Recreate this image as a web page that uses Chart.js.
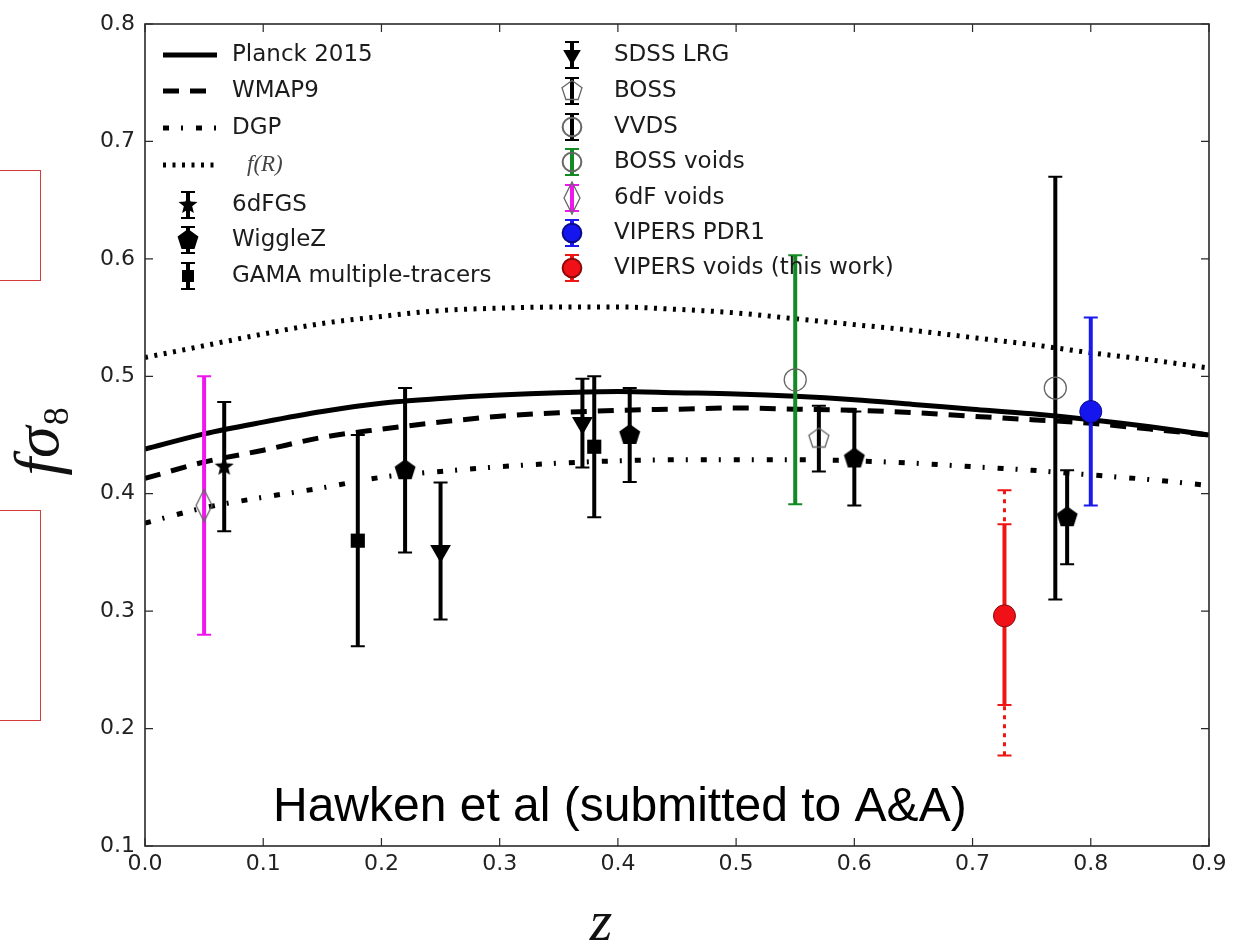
<!DOCTYPE html>
<html>
<head>
<meta charset="utf-8">
<title>fσ8 vs z</title>
<script src="https://cdn.jsdelivr.net/npm/chart.js@4.4.1/dist/chart.umd.min.js"></script>
<style>
  html, body { margin: 0; padding: 0; background: #fff; overflow: hidden; }
  #wrap { position: relative; width: 1242px; height: 948px; }
  #growth { position: absolute; left: 0; top: 0; }
  .callout { position: absolute; left: -2px; width: 43px; border: 1px solid #d23c3c; box-sizing: border-box; }
</style>
</head>
<body>
<div id="wrap">
  <canvas id="growth" width="1242" height="948"></canvas>
  <div class="callout" style="top:170px;height:111px"></div>
  <div class="callout" style="top:510px;height:211px"></div>
</div>
<script>
// model curves, sampled every 0.05 in z
const curveZ = [0, 0.05, 0.1, 0.15, 0.2, 0.25, 0.3, 0.35, 0.4, 0.45, 0.5, 0.55, 0.6, 0.65, 0.7, 0.75, 0.8, 0.85, 0.9];
const planck2015 = [0.438, 0.451, 0.461, 0.470, 0.477, 0.481, 0.484, 0.486, 0.487, 0.486, 0.485, 0.483, 0.480, 0.476, 0.472, 0.468, 0.463, 0.457, 0.450];
const wmap9 = [0.413, 0.427, 0.437, 0.448, 0.455, 0.461, 0.466, 0.469, 0.471, 0.472, 0.473, 0.472, 0.471, 0.469, 0.466, 0.463, 0.460, 0.455, 0.450];
const dgp = [0.375, 0.388, 0.397, 0.405, 0.414, 0.419, 0.423, 0.426, 0.428, 0.429, 0.429, 0.429, 0.428, 0.426, 0.423, 0.420, 0.416, 0.412, 0.407];
const fOfR = [0.516, 0.526, 0.536, 0.545, 0.551, 0.556, 0.558, 0.559, 0.559, 0.557, 0.554, 0.549, 0.544, 0.539, 0.533, 0.527, 0.520, 0.514, 0.507];

// measurements: redshift, f*sigma8, 1-sigma error
const z6dFGS = [0.067];            const f6dFGS = [0.423];          const e6dFGS = [0.055];
const zWiggleZ = [0.22, 0.41, 0.60, 0.78];
const fWiggleZ = [0.42, 0.45, 0.43, 0.38];
const eWiggleZ = [0.07, 0.04, 0.04, 0.04];
const zGAMA = [0.18, 0.38];        const fGAMA = [0.36, 0.44];      const eGAMA = [0.09, 0.06];
const zSDSS = [0.25, 0.37];        const fSDSS = [0.3512, 0.4602];  const eSDSS = [0.0583, 0.0378];
const zBOSS = [0.57];              const fBOSS = [0.447];           const eBOSS = [0.028];
const zVVDS = [0.77];              const fVVDS = [0.49];            const eVVDS = [0.18];
const zBOSSvoids = [0.55];         const fBOSSvoids = [0.497];      const eBOSSvoids = [0.106];
const z6dFvoids = [0.05];          const f6dFvoids = [0.39];        const e6dFvoids = [0.11];
const zVIPERS = [0.80];            const fVIPERS = [0.47];          const eVIPERS = [0.08];
const zVoids = [0.727];            const fVoids = [0.296];
const eVoidsLo = [0.076];          const eVoidsHi = [0.078];
const eVoidsSysLo = [0.119];       const eVoidsSysHi = [0.107];

const xTicks = [0, 0.1, 0.2, 0.3, 0.4, 0.5, 0.6, 0.7, 0.8, 0.9];
const yTicks = [0.1, 0.2, 0.3, 0.4, 0.5, 0.6, 0.7, 0.8];

// custom marker shapes
function markerCanvas(size, draw) {
  const c = document.createElement('canvas');
  c.width = c.height = size;
  const g = c.getContext('2d');
  g.translate(size / 2, size / 2);
  draw(g);
  return c;
}
function polyPath(g, n, rOut, rIn) {
  g.beginPath();
  const steps = rIn ? n * 2 : n;
  for (let i = 0; i < steps; i++) {
    const r = rIn && i % 2 ? rIn : rOut;
    const a = -Math.PI / 2 + i * Math.PI * 2 / steps;
    const px = r * Math.cos(a), py = r * Math.sin(a);
    i ? g.lineTo(px, py) : g.moveTo(px, py);
  }
  g.closePath();
}
const starMark = markerCanvas(26, g => { polyPath(g, 5, 10, 4.4); g.fillStyle = '#000'; g.fill(); });
const pentaFilled = markerCanvas(26, g => { polyPath(g, 5, 11); g.fillStyle = '#000'; g.fill(); });
const pentaOpen = markerCanvas(26, g => { polyPath(g, 5, 10.5); g.strokeStyle = '#666'; g.lineWidth = 1.3; g.stroke(); });
const diamondOpen = markerCanvas(36, g => {
  g.beginPath(); g.moveTo(0, -16); g.lineTo(8, 0); g.lineTo(0, 16); g.lineTo(-8, 0); g.closePath();
  g.strokeStyle = '#666'; g.lineWidth = 1.3; g.stroke();
});

function points(zs, fs) { return zs.map((z, i) => ({ x: z, y: fs[i] })); }

const surveys = [
  { label: '6dFGS', data: points(z6dFGS, f6dFGS), lo: e6dFGS, hi: e6dFGS, bar: '#000',
    pointStyle: starMark, radius: 10, fill: '#000', edge: '#000', edgeW: 0 },
  { label: 'WiggleZ', data: points(zWiggleZ, fWiggleZ), lo: eWiggleZ, hi: eWiggleZ, bar: '#000',
    pointStyle: pentaFilled, radius: 10, fill: '#000', edge: '#000', edgeW: 0 },
  { label: 'GAMA multiple-tracers', data: points(zGAMA, fGAMA), lo: eGAMA, hi: eGAMA, bar: '#000',
    pointStyle: 'rect', radius: 10, fill: '#000', edge: '#000', edgeW: 0 },
  { label: 'SDSS LRG', data: points(zSDSS, fSDSS), lo: eSDSS, hi: eSDSS, bar: '#000',
    pointStyle: 'triangle', rotation: 180, radius: 12, fill: '#000', edge: '#000', edgeW: 0 },
  { label: 'BOSS', data: points(zBOSS, fBOSS), lo: eBOSS, hi: eBOSS, bar: '#000',
    pointStyle: pentaOpen, radius: 10, fill: 'rgba(0,0,0,0)', edge: '#666', edgeW: 0 },
  { label: 'VVDS', data: points(zVVDS, fVVDS), lo: eVVDS, hi: eVVDS, bar: '#000',
    pointStyle: 'circle', radius: 11, fill: 'rgba(0,0,0,0)', edge: '#666', edgeW: 1.3 },
  { label: 'BOSS voids', data: points(zBOSSvoids, fBOSSvoids), lo: eBOSSvoids, hi: eBOSSvoids, bar: '#138a24',
    pointStyle: 'circle', radius: 11, fill: 'rgba(0,0,0,0)', edge: '#666', edgeW: 1.3 },
  { label: '6dF voids', data: points(z6dFvoids, f6dFvoids), lo: e6dFvoids, hi: e6dFvoids, bar: '#ee18ee',
    pointStyle: diamondOpen, radius: 10, fill: 'rgba(0,0,0,0)', edge: '#666', edgeW: 0 },
  { label: 'VIPERS PDR1', data: points(zVIPERS, fVIPERS), lo: eVIPERS, hi: eVIPERS, bar: '#1a1aee',
    pointStyle: 'circle', radius: 11, fill: '#1515ee', edge: '#0a0a8a', edgeW: 1 },
  { label: 'VIPERS voids (this work)', data: points(zVoids, fVoids), lo: eVoidsLo, hi: eVoidsHi,
    sysLo: eVoidsSysLo, sysHi: eVoidsSysHi, bar: '#ee1515',
    pointStyle: 'circle', radius: 11, fill: '#f01018', edge: '#8a0a0a', edgeW: 1 }
];

const models = [
  { label: 'Planck 2015', data: planck2015, dash: [] },
  { label: 'WMAP9', data: wmap9, dash: [16, 11] },
  { label: 'DGP', data: dgp, dash: [6, 12, 2, 13] },
  { label: 'f(R)', data: fOfR, dash: [3, 6.5] }
];

const datasets = models.map((m, i) => ({
  type: 'line',
  label: m.label,
  data: points(curveZ, m.data),
  borderColor: '#000',
  borderWidth: 5,
  borderDash: m.dash,
  borderCapStyle: 'butt',
  cubicInterpolationMode: 'monotone',
  pointRadius: 0,
  fill: false,
  order: 2,
  barsAfter: i === 0
})).concat(surveys.map(s => ({
  type: 'scatter',
  label: s.label,
  data: s.data,
  pointStyle: s.pointStyle,
  rotation: s.rotation || 0,
  pointRadius: s.radius,
  backgroundColor: s.fill,
  borderColor: s.edge,
  borderWidth: s.edgeW,
  order: 1,
  errLo: s.lo, errHi: s.hi, sysLo: s.sysLo, sysHi: s.sysHi, barColor: s.bar
})));

function errorBar(ctx, px, top, bottom, color, dashed) {
  ctx.strokeStyle = color;
  ctx.lineWidth = dashed ? 3 : 4;
  ctx.setLineDash(dashed ? [4, 5] : []);
  ctx.beginPath(); ctx.moveTo(px, top); ctx.lineTo(px, bottom); ctx.stroke();
  ctx.setLineDash([]);
  ctx.lineWidth = 2;
  ctx.beginPath();
  ctx.moveTo(px - 7, top); ctx.lineTo(px + 7, top);
  ctx.moveTo(px - 7, bottom); ctx.lineTo(px + 7, bottom);
  ctx.stroke();
}

function drawErrorBars(chart) {
  const { ctx, scales: { x, y } } = chart;
  ctx.save();
  chart.data.datasets.forEach(ds => {
    if (!ds.errLo) return;
    ds.data.forEach((p, i) => {
      const px = x.getPixelForValue(p.x);
      if (ds.sysLo) {
        errorBar(ctx, px, y.getPixelForValue(p.y + ds.sysHi[i]), y.getPixelForValue(p.y - ds.sysLo[i]), ds.barColor, true);
      }
      errorBar(ctx, px, y.getPixelForValue(p.y + ds.errHi[i]), y.getPixelForValue(p.y - ds.errLo[i]), ds.barColor, false);
    });
  });
  ctx.restore();
}

function drawFrame(chart) {
  const { ctx, chartArea: a, scales: { x, y } } = chart;
  ctx.save();
  ctx.strokeStyle = '#2a2a2a';
  ctx.lineWidth = 1.6;
  ctx.strokeRect(a.left, a.top, a.right - a.left, a.bottom - a.top);
  ctx.lineWidth = 1.2;
  ctx.beginPath();
  xTicks.forEach(v => {
    const px = x.getPixelForValue(v);
    ctx.moveTo(px, a.bottom); ctx.lineTo(px, a.bottom - 8);
    ctx.moveTo(px, a.top); ctx.lineTo(px, a.top + 8);
  });
  yTicks.forEach(v => {
    const py = y.getPixelForValue(v);
    ctx.moveTo(a.left, py); ctx.lineTo(a.left + 8, py);
    ctx.moveTo(a.right, py); ctx.lineTo(a.right - 8, py);
  });
  ctx.stroke();
  ctx.restore();
}

function legendMarker(ctx, s, cx, cy) {
  errorBar(ctx, cx, cy - 13, cy + 13, s.bar, false);
  ctx.fillStyle = s.fill;
  ctx.strokeStyle = s.edge;
  Chart.helpers.drawPoint(ctx, {
    pointStyle: s.pointStyle, rotation: s.rotation || 0,
    radius: s.radius * 0.85, borderWidth: s.edgeW
  }, cx, cy);
}

function drawLegend(chart) {
  const ctx = chart.ctx;
  const textFont = "23px 'DejaVu Sans'";
  ctx.save();
  ctx.textBaseline = 'middle';
  const leftRows = [55, 91, 128, 165, 205, 240, 276];
  models.forEach((m, i) => {
    const yy = leftRows[i];
    ctx.strokeStyle = '#000';
    ctx.lineWidth = 5;
    ctx.lineCap = 'butt';
    ctx.setLineDash(m.dash);
    ctx.beginPath(); ctx.moveTo(163, yy); ctx.lineTo(217, yy); ctx.stroke();
    ctx.setLineDash([]);
    if (m.label === 'f(R)') {
      ctx.fillStyle = '#444';
      ctx.font = "italic 23px 'Liberation Serif'";
      ctx.fillText('f(R)', 247, yy);
    } else {
      ctx.fillStyle = '#1c1c1c';
      ctx.font = textFont;
      ctx.fillText(m.label, 232, yy);
    }
  });
  surveys.slice(0, 3).forEach((s, i) => {
    const yy = leftRows[4 + i];
    legendMarker(ctx, s, 188, yy);
    ctx.fillStyle = '#1c1c1c';
    ctx.font = textFont;
    ctx.fillText(s.label, 232, yy);
  });
  const rightRows = [55, 91, 127, 162, 198, 233, 268];
  surveys.slice(3).forEach((s, i) => {
    const yy = rightRows[i];
    legendMarker(ctx, s, 572, yy);
    ctx.fillStyle = '#1c1c1c';
    ctx.font = textFont;
    ctx.fillText(s.label, 614, yy);
  });
  ctx.restore();
}

function drawTexts(chart) {
  const ctx = chart.ctx;
  ctx.save();
  ctx.fillStyle = '#000';
  ctx.font = "48px 'Liberation Sans'";
  ctx.textBaseline = 'alphabetic';
  ctx.fillText('Hawken et al (submitted to A&A)', 273, 821);

  // axis titles
  ctx.fillStyle = '#111';
  ctx.font = "italic 58px 'Liberation Serif'";
  ctx.textAlign = 'center';
  ctx.textBaseline = 'middle';
  ctx.fillText('z', 601, 925);

  ctx.translate(44, 442);
  ctx.rotate(-Math.PI / 2);
  ctx.textAlign = 'left';
  ctx.textBaseline = 'alphabetic';
  const big = "italic 64px 'Liberation Serif'";
  const small = "36px 'Liberation Serif'";
  ctx.font = big;
  const w1 = ctx.measureText('fσ').width;
  ctx.font = small;
  const w2 = ctx.measureText('8').width;
  const x0 = -(w1 + w2) / 2;
  ctx.font = big;
  ctx.fillText('fσ', x0, 14);
  ctx.font = small;
  ctx.fillText('8', x0 + w1 + 1, 24);
  ctx.restore();
}

const decor = {
  id: 'decor',
  afterDatasetDraw(chart, args) {
    if (chart.data.datasets[args.index].barsAfter) drawErrorBars(chart);
  },
  afterDraw(chart) {
    drawFrame(chart);
    drawLegend(chart);
    drawTexts(chart);
  }
};

Chart.defaults.font.family = "'DejaVu Sans'";

new Chart(document.getElementById('growth'), {
  type: 'scatter',
  data: { datasets },
  plugins: [decor],
  options: {
    responsive: false,
    devicePixelRatio: 1,
    animation: false,
    events: [],
    layout: { padding: { left: 0, top: 24, right: 33, bottom: 0 } },
    plugins: { legend: { display: false }, tooltip: { enabled: false } },
    scales: {
      x: {
        type: 'linear', min: 0, max: 0.9,
        afterBuildTicks: s => { s.ticks = xTicks.map(v => ({ value: v })); },
        afterFit: s => { s.height = 102; },
        grid: { display: false, drawTicks: false },
        border: { display: false },
        ticks: { color: '#222', padding: 5, font: { size: 22 }, maxRotation: 0, callback: v => v.toFixed(1) }
      },
      y: {
        type: 'linear', min: 0.1, max: 0.8,
        afterBuildTicks: s => { s.ticks = yTicks.map(v => ({ value: v })); },
        afterFit: s => { s.width = 145; },
        grid: { display: false, drawTicks: false },
        border: { display: false },
        ticks: { color: '#222', padding: 10, font: { size: 22 }, callback: v => v.toFixed(1) }
      }
    }
  }
});
</script>
</body>
</html>
